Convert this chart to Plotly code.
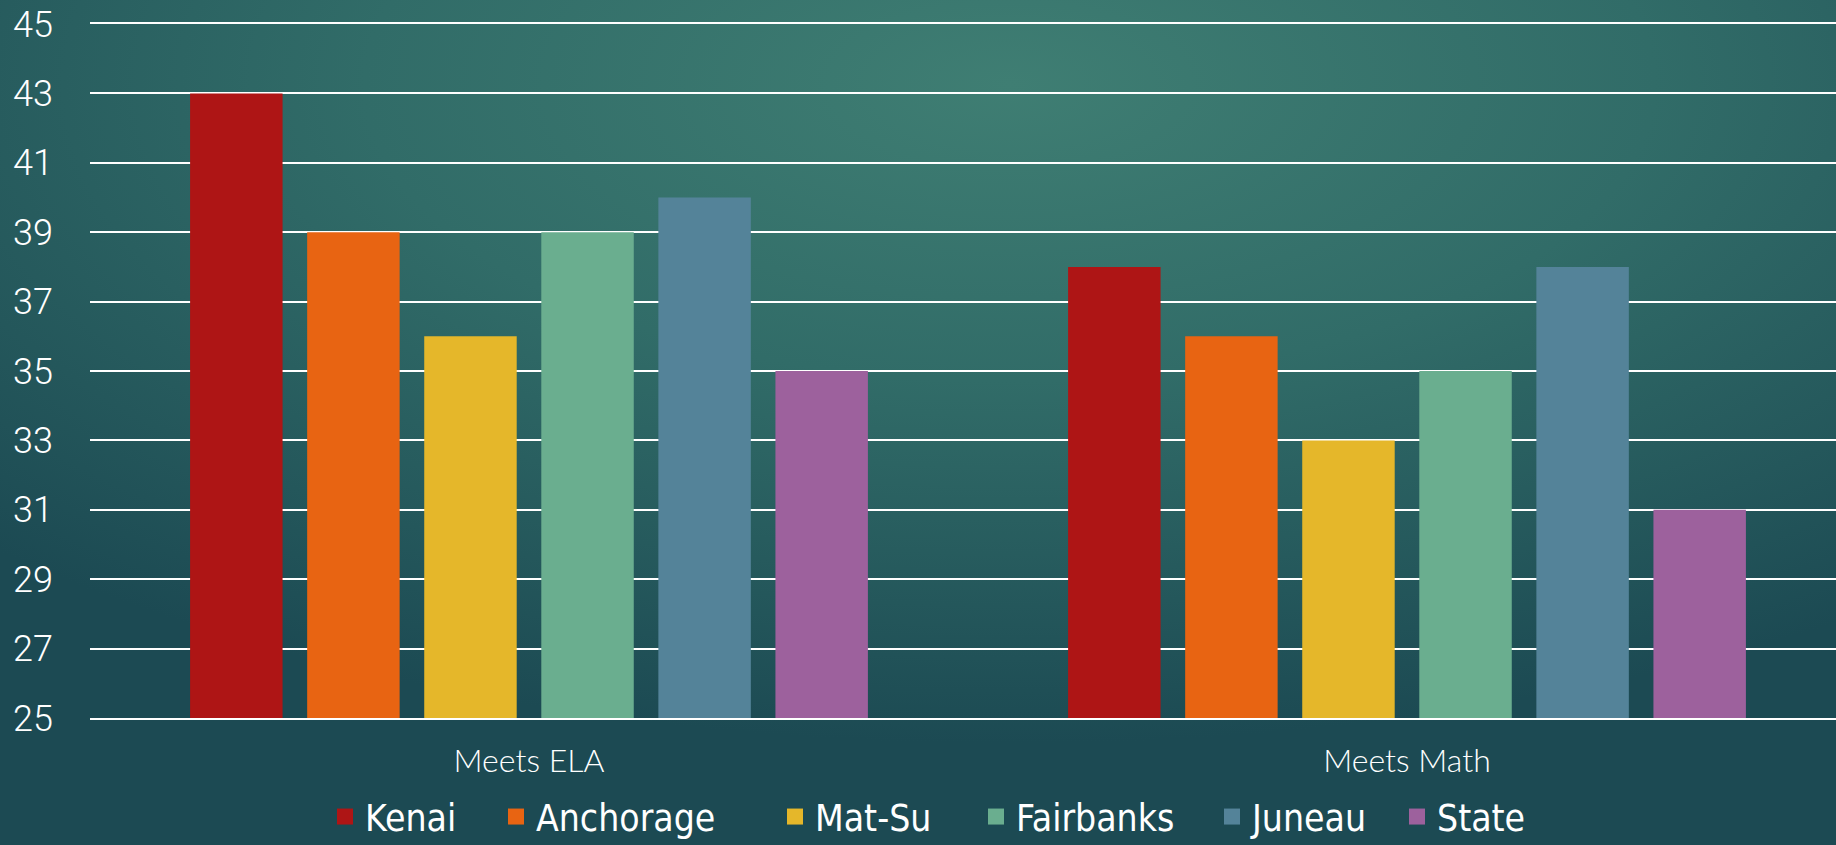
import base64
import plotly.graph_objects as go

categories = ["Meets ELA", "Meets Math"]
series_names = ["Kenai", "Anchorage", "Mat-Su", "Fairbanks", "Juneau", "State"]
kenai = [43, 38]
anchorage = [39, 36]
mat_su = [36, 33]
fairbanks = [39, 35]
juneau = [40, 38]
state = [35, 31]
series_values = [kenai, anchorage, mat_su, fairbanks, juneau, state]
colors = ["#AE1515", "#E86412", "#E5B72A", "#6AAE8F", "#548399", "#9D619D"]
y_ticks = list(range(25, 46, 2))

W, H = 1836, 845
ML, MR, MT, MB = 90, 0, 24, 127
PW, PH = W - ML - MR, H - MT - MB
CAT_PX = 878  # pixel width of one category

# legend entry left edges (pixels) for layout
legend_px = [335, 506, 785, 986, 1222, 1407]

svg = f'''<svg xmlns="http://www.w3.org/2000/svg" width="{W}" height="{H}" viewBox="0 0 {W} {H}" preserveAspectRatio="none">
<defs><radialGradient id="g" cx="0.55" cy="0.1" r="0.78" fx="0.55" fy="0.1">
<stop offset="0" stop-color="#3f7e73"/>
<stop offset="0.45" stop-color="#316c68"/>
<stop offset="1" stop-color="#1c4a53"/>
</radialGradient></defs>
<rect x="0" y="0" width="{W}" height="{H}" fill="url(#g)"/></svg>'''
src = "data:image/svg+xml;base64," + base64.b64encode(svg.encode()).decode()

legend_font = dict(family="DejaVu Sans Condensed, Liberation Sans Narrow, sans-serif", size=37, color="white")

fig = go.Figure()
layout_legends = {}
for i, (name, vals, col) in enumerate(zip(series_names, series_values, colors)):
    lg = "legend" if i == 0 else f"legend{i+1}"
    fig.add_trace(go.Bar(name=name, x=categories, y=[v - 25 for v in vals], base=25,
                         marker=dict(color=col, line=dict(width=0)),
                         hoverinfo="skip", showlegend=False))
    fig.add_trace(go.Scatter(name=name, x=[None], y=[None], mode="markers",
                             marker=dict(symbol="square", size=20, color=col),
                             showlegend=True, legend=lg))
    layout_legends[lg] = dict(orientation="h", xref="container", x=(legend_px[i] - 10) / W, xanchor="left",
                              yref="container", y=1 - 817 / H, yanchor="middle",
                              font=legend_font, bgcolor="rgba(0,0,0,0)",
                              borderwidth=0, itemsizing="trace")

fig.update_layout(
    width=W, height=H,
    margin=dict(l=ML, r=MR, t=MT, b=MB, autoexpand=False),
    paper_bgcolor="#1f4e57", plot_bgcolor="rgba(0,0,0,0)",
    barmode="group", bargap=0.2, bargroupgap=0.21,
    showlegend=True,
    images=[dict(source=src, xref="paper", yref="paper", x=-ML / PW, y=1 + MT / PH,
                 sizex=W / PW, sizey=H / PH, xanchor="left", yanchor="top",
                 sizing="stretch", layer="below")],
    xaxis=dict(range=[-0.5, -0.5 + PW / CAT_PX], showgrid=False, showline=True, mirror=True,
               linecolor="white", linewidth=2,
               tickfont=dict(family="Lato, Open Sans, sans-serif", size=32, color="white", weight=300),
               ticks="", ticklabelstandoff=14),
    yaxis=dict(range=[25, 45], tickvals=y_ticks, showgrid=True, gridcolor="white", gridwidth=2,
               zeroline=False, showline=False, ticks="",
               tickfont=dict(family="Roboto, sans-serif", size=36, color="white", weight=300),
               ticklabelstandoff=36),
    **layout_legends,
)
fig.write_html("out.html", config={"displayModeBar": False},
               post_script="document.body.style.margin='0';document.body.style.overflow='hidden';")
